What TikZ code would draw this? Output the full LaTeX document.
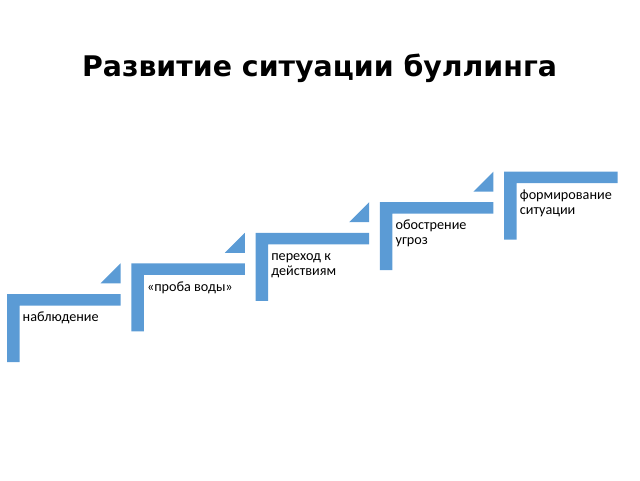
\documentclass[tikz,border=0pt]{standalone}
\usepackage{fontspec}
\setmainfont{Carlito}
\newfontfamily\titlefont{DejaVu Sans}
\definecolor{stepblue}{HTML}{5B9BD5}
\tikzset{
  stepshape/.style={fill=stepblue, draw=none},
  steplabel/.style={anchor=north west, inner sep=0pt, align=left, font=\fontsize{14.2}{15}\selectfont, text=black},
  titlelabel/.style={anchor=base, inner sep=0pt, font=\titlefont\bfseries\fontsize{28.4}{32}\selectfont}
}
\begin{document}
\begin{tikzpicture}[x=1pt,y=-1pt]
\useasboundingbox (0,0) rectangle (640,480);
\node[titlelabel] (title) at (319.5,76) {Развитие ситуации буллинга};
\foreach \i/\txt in {0/{\strut наблюдение}, 1/{\strut «проба воды»}, 2/{\strut переход к\\действиям}, 3/{\strut обострение\\угроз}, 4/{\strut формирование\\ситуации}}{
  \pgfmathsetmacro{\xo}{7+124.3*\i}
  \pgfmathsetmacro{\yt}{294-30.6*\i}
  \fill[stepshape] (\xo,\yt) -- ++(113.5,0) -- ++(0,11.5) -- ++(-101,0) -- ++(0,56.5) -- ++(-12.5,0) -- cycle;
  \node[steplabel] (lab\i) at (\xo+15.5,\yt+17) {\txt};
}
\foreach \i in {0,1,2,3}{
  \pgfmathsetmacro{\xr}{7+124.3*\i+113.5}
  \pgfmathsetmacro{\yn}{294-30.6*(\i+1)}
  \fill[stepshape] (\xr,\yn) -- (\xr,\yn+20) -- (\xr-20,\yn+20) -- cycle;
}
\end{tikzpicture}
\end{document}
